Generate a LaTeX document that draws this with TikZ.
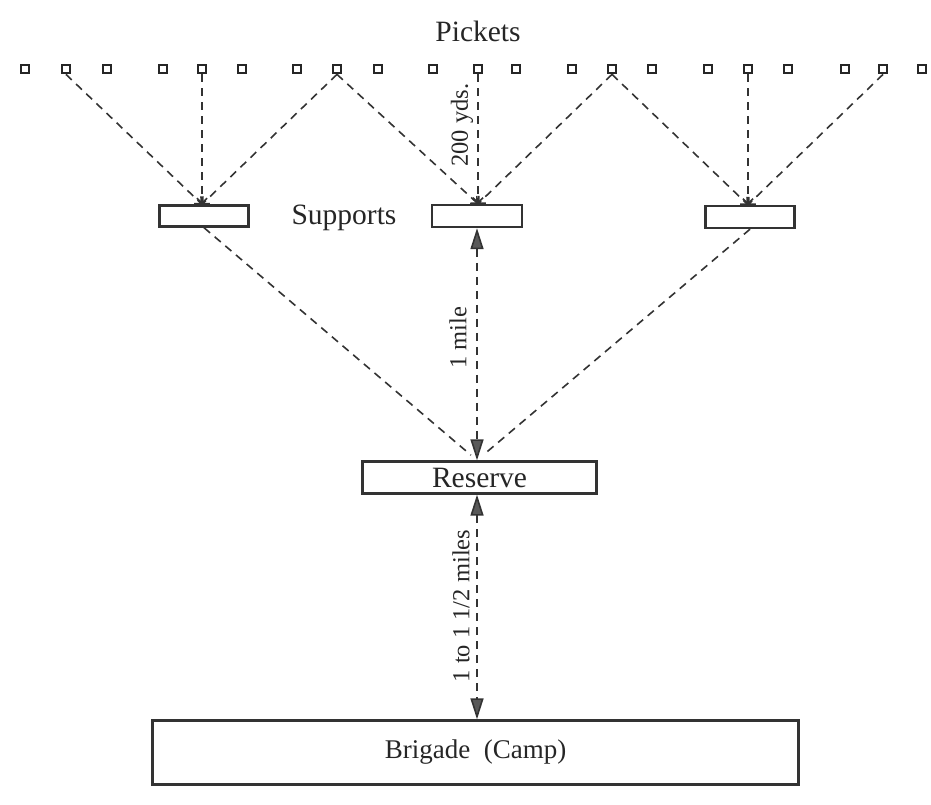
\documentclass[tikz,border=0pt]{standalone}
\usepackage{fontspec}
\setmainfont{Liberation Serif}
\usetikzlibrary{arrows.meta}
\begin{document}
\begin{tikzpicture}[x=1pt,y=-1pt,
  picket/.style={draw=black!85, fill=white, line width=2.8pt, minimum size=8pt, inner sep=0pt},
  box/.style={draw=black!80, line width=2.4pt, inner sep=0pt, fill=white},
  dline/.style={draw=black!80, line width=1.6pt, dash pattern=on 8pt off 6pt},
  barb/.style={-{Straight Barb[length=5pt,width=10pt]}},
  gtip/.style={{Triangle[length=21pt,width=13pt,fill=black!65]}-{Triangle[length=21pt,width=13pt,fill=black!65]}},
  lbl/.style={font=\fontsize{29.5}{34}\selectfont, text=black!85, inner sep=0pt},
  rlbl/.style={font=\fontsize{24.5}{28}\selectfont, rotate=90, text=black!85, inner sep=0pt}
]
\useasboundingbox (0,0) rectangle (931,804);
\fill[white] (0,0) rectangle (931,804);

% pickets
\foreach \x [count=\i] in {25,66,107,163,202,242,297,337,378,433,478,516,572,612,652,708,748,788,845,883,922}
  \node[picket] (p\i) at (\x,69) {};

\node[lbl] (pk) at (478,31) {Pickets};

% supports
\node[box, minimum width=89pt, minimum height=21pt] (s1) at (204,216) {};
\node[box, minimum width=90pt, minimum height=22pt] (s2) at (477,216) {};
\node[box, minimum width=89pt, minimum height=22pt] (s3) at (750,217) {};
\node[lbl] (sl) at (344,218) {Supports};

% reserve and brigade
\node[box, lbl, minimum width=234pt, minimum height=32pt] (r) at (479.5,477.5) {Reserve};
\node[box, lbl, font=\fontsize{27}{32}\selectfont, minimum width=646pt, minimum height=64pt] (b) at (475.5,752.5) {Brigade\ \ (Camp)};

% arrival points
\coordinate (t1) at (p5 |- s1.north);
\coordinate (t2) at (p11 |- s2.north);
\coordinate (t3) at (p17 |- s3.north);
\coordinate (rtop) at (s2.south |- r.north);
\coordinate (rbot) at (s2.south |- r.south);
\coordinate (btop) at (s2.south |- b.north);

% pickets to supports
\draw[dline, barb] (p2.south) -- (t1);
\draw[dline, barb] (p5.south) -- (t1);
\draw[dline, barb] (p8.south) -- (t1);
\draw[dline, barb] (p8.south) -- (t2);
\draw[dline, barb] (p11.south) -- (t2);
\draw[dline, barb] (p14.south) -- (t2);
\draw[dline, barb] (p14.south) -- (t3);
\draw[dline, barb] (p17.south) -- (t3);
\draw[dline, barb] (p20.south) -- (t3);

% supports to reserve
\draw[dline, shorten >=8pt] (s1.south) -- (rtop);
\draw[dline, shorten >=8pt] (s3.south) -- (rtop);
\draw[dline, gtip] (s2.south) -- (rtop);

% reserve to brigade
\draw[dline, gtip] (rbot) -- (btop);

% distance labels
\node[rlbl] (l1) at (462,125) {200 yds.};
\node[rlbl] (l2) at (458,338) {1 mile};
\node[rlbl] (l3) at (461,606) {1 to 1 1/2 miles};
\end{tikzpicture}
\end{document}
